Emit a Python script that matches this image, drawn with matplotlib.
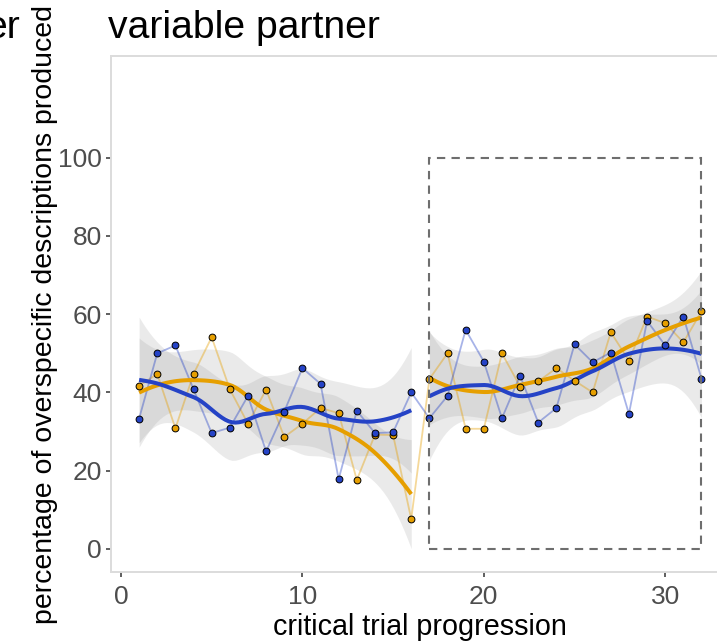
import math
import numpy as np
import matplotlib
matplotlib.use("Agg")
import matplotlib.pyplot as plt
from matplotlib.patches import Rectangle

plt.rcParams['font.family'] = ['Liberation Sans', 'DejaVu Sans']

# critical trials 1..32, split into two blocks of 16
trial = np.arange(1, 33)
block_1 = trial <= 16
block_2 = trial >= 17

pct_orange = [41.7, 44.7, 30.8, 44.7, 54.1, 40.8, 32.0, 40.7, 28.6, 32.0,
              36.0, 34.7, 17.6, 29.2, 29.1, 7.6, 43.4, 50.0, 30.7, 30.7,
              50.0, 41.5, 42.8, 46.2, 43.0, 40.0, 55.4, 48.1, 59.4, 57.7,
              52.8, 60.7]
pct_blue = [33.3, 50.0, 52.0, 40.8, 29.6, 31.0, 39.1, 24.9, 35.1, 46.2,
            42.2, 17.8, 35.3, 29.6, 29.8, 40.0, 33.4, 39.1, 56.0, 47.9,
            33.4, 44.3, 32.3, 36.0, 52.3, 47.7, 50.2, 34.5, 58.3, 52.0,
            59.4, 43.5]

x_ticks = [0, 10, 20, 30]
y_ticks = [0, 20, 40, 60, 80, 100]

ORANGE = "#E69F00"
BLUE = "#2543C6"


def t_quantile(p, df):
    t = np.linspace(0.0, 60.0, 300001)
    c = math.exp(math.lgamma((df + 1) / 2) - math.lgamma(df / 2)) / math.sqrt(df * math.pi)
    pdf = c * (1 + t ** 2 / df) ** (-(df + 1) / 2)
    cdf = 0.5 + np.concatenate([[0.0], np.cumsum((pdf[1:] + pdf[:-1]) / 2 * np.diff(t))])
    return float(np.interp(p, cdf, t))


def kd_vertices(x, fc):
    """Cell boundaries of a 1-d k-d tree (leaf cells hold at most fc points);
    each cell is cut at its median point."""
    xs = np.sort(x)
    pad = 0.005 * (xs[-1] - xs[0])
    verts = {xs[0] - pad, xs[-1] + pad}

    def split(pts):
        if len(pts) <= fc:
            return
        m = (len(pts) + 1) // 2
        verts.add(pts[m - 1])
        split(pts[:m])
        split(pts[m:])

    split(xs)
    return np.array(sorted(verts))


def loess(x, y, xs, span=0.75, level=0.95, cell=0.2):
    """Local quadratic regression (tricube weights), evaluated on k-d tree
    vertices and blended with cubic Hermite interpolation; t-based band."""
    x = np.asarray(x, float)
    y = np.asarray(y, float)
    n = len(x)
    q = int(np.floor(n * span))

    def local(x0):
        d = np.abs(x - x0)
        h = np.sort(d)[q - 1]
        u = d / h
        w = np.where(u < 1, (1 - u ** 3) ** 3, 0.0)
        X = np.column_stack([np.ones(n), x - x0, (x - x0) ** 2])
        XtW = X.T * w
        B = np.linalg.solve(XtW @ X, XtW)
        return B[0], B[1]

    verts = kd_vertices(x, int(np.floor(n * span * cell)))
    vals, slopes = zip(*[local(v) for v in verts])
    vals = np.array(vals)
    slopes = np.array(slopes)

    def operator(pts):
        rows = []
        for p in np.atleast_1d(pts):
            k = int(np.clip(np.searchsorted(verts, p) - 1, 0, len(verts) - 2))
            h = verts[k + 1] - verts[k]
            t = (p - verts[k]) / h
            h00 = 2 * t ** 3 - 3 * t ** 2 + 1
            h10 = t ** 3 - 2 * t ** 2 + t
            h01 = -2 * t ** 3 + 3 * t ** 2
            h11 = t ** 3 - t ** 2
            rows.append(h00 * vals[k] + h10 * h * slopes[k]
                        + h01 * vals[k + 1] + h11 * h * slopes[k + 1])
        return np.array(rows)

    L = operator(x)
    resid = y - L @ y
    IL = np.eye(n) - L
    M = IL.T @ IL
    d1 = np.trace(M)
    d2 = np.trace(M @ M)
    s = math.sqrt(np.sum(resid ** 2) / d1)
    tq = t_quantile(0.5 + level / 2, d1 ** 2 / d2)
    Ls = operator(xs)
    fit = Ls @ y
    se = s * np.sqrt(np.sum(Ls ** 2, axis=1))
    return fit, fit - tq * se, fit + tq * se


fig = plt.figure(figsize=(7.17, 6.44), dpi=100)
ax = fig.add_axes([0.1548, 0.1113, 0.8628, 0.8017])

series = [(pct_orange, ORANGE), (pct_blue, BLUE)]
smooths = []
for vals, col in series:
    vals = np.asarray(vals)
    for mask in (block_1, block_2):
        xb = trial[mask]
        xs = np.linspace(xb.min(), xb.max(), 80)
        smooths.append((xs, *loess(xb, vals[mask], xs), col))

# confidence bands of the smoothers, per block
for xs, fit, lo, hi, col in smooths:
    ax.fill_between(xs, lo, hi, color="#999999", alpha=0.2, lw=0, zorder=1)

# raw trial-by-trial lines
for vals, col in series:
    ax.plot(trial, vals, color=col, lw=1.3, alpha=0.4, zorder=2,
            solid_joinstyle="round")

# smoothers
for xs, fit, lo, hi, col in smooths:
    ax.plot(xs, fit, color=col, lw=2.9, zorder=3, solid_capstyle="butt")

# points
for vals, col in series:
    ax.plot(trial, vals, ls="none", marker="o", ms=4.9, mfc=col,
            mec="black", mew=0.7, zorder=4)

# second-block frame
ax.add_patch(Rectangle((17, 0), 15, 100, fill=False, ec="#6E6E6E", lw=1.5,
                       ls=(0, (4, 3)), zorder=5))

ax.set_xlim(-0.55, 33.55)
ax.set_ylim(-6, 126)
ax.set_xticks(x_ticks)
ax.set_yticks(y_ticks)
ax.tick_params(axis="both", length=3.5, width=1.1, color="#333333",
               labelsize=19, labelcolor="#4D4D4D")
ax.tick_params(axis="x", pad=5.5)
ax.tick_params(axis="y", pad=3)
for sp in ax.spines.values():
    sp.set_color("#DCDCDC")
    sp.set_linewidth(1.4)

ax.set_xlabel("critical trial progression", fontsize=20.7, color="black", labelpad=3)
ax.set_ylabel("percentage of overspecific descriptions produced", fontsize=20.5,
              color="black", labelpad=0)

fig.text(108 / 717, 1 - 38 / 644, "variable partner", fontsize=28.2,
         ha="left", va="baseline")
fig.text(20 / 717, 1 - 38 / 644, "er", fontsize=28.2, ha="right", va="baseline")

fig.savefig("out.png", dpi=100, facecolor="white")
